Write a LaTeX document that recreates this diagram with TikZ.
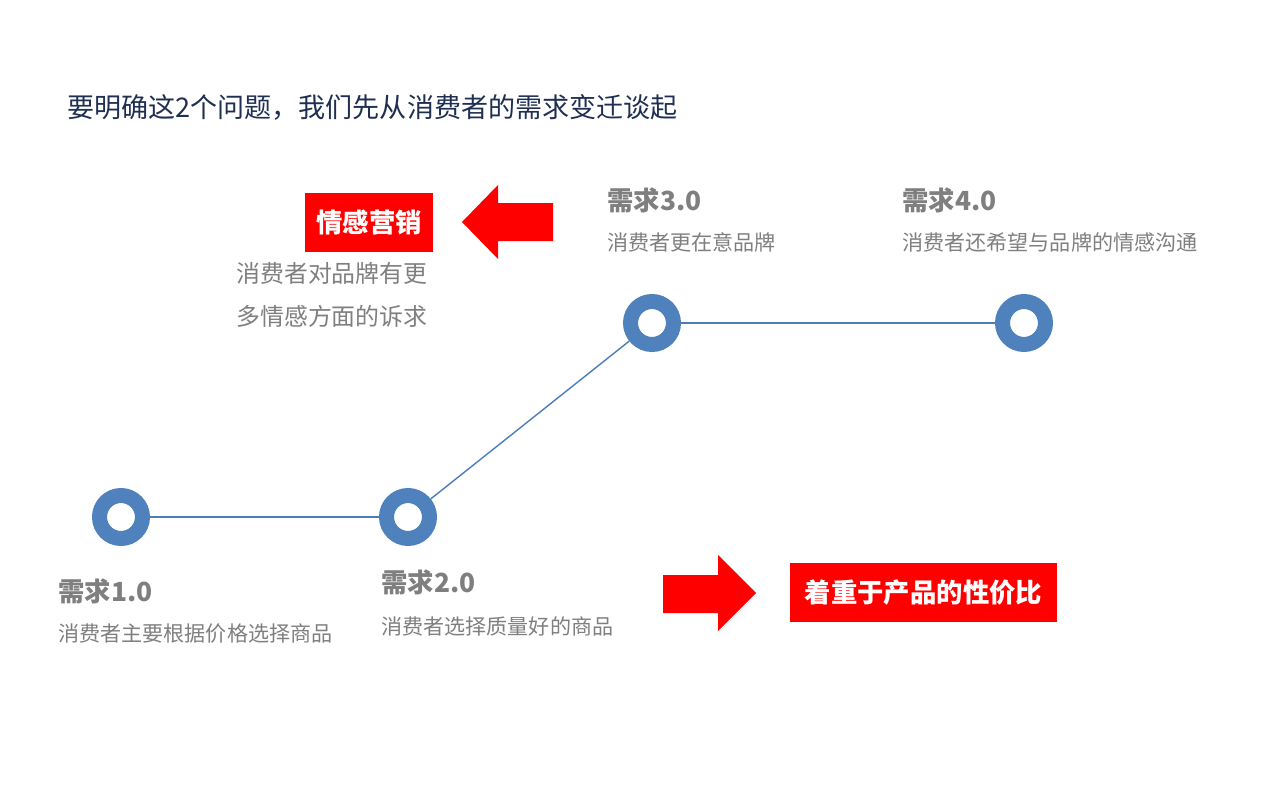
\documentclass[tikz,border=0pt]{standalone}
\usepackage{fontspec}
\setmainfont{Noto Sans CJK SC}
\usepackage{xcolor}
\usetikzlibrary{positioning}

\definecolor{titleblue}{HTML}{1F2F52}
\definecolor{ringblue}{HTML}{4F81BD}
\definecolor{lineblue}{HTML}{4A7EBB}
\definecolor{labelgray}{HTML}{7F7F7F}
\definecolor{markred}{HTML}{FF0000}

\begin{document}
\begin{tikzpicture}[x=0.02cm,y=-0.02cm]
\tikzstyle{every node}+=[inner sep=0pt]
\tikzstyle{ring}=[circle,draw=ringblue,line width=0.3cm,minimum size=0.86cm]
\tikzstyle{link}=[lineblue,line width=0.8pt]
\tikzstyle{stage}=[anchor=west,text=labelgray,font=\fontsize{15pt}{18pt}\selectfont\bfseries]
\tikzstyle{note}=[anchor=west,text=labelgray,font=\fontsize{12pt}{14pt}\selectfont]
\tikzstyle{tag}=[fill=markred,text=white,font=\fontsize{15pt}{18pt}\selectfont\bfseries,minimum height=1.18cm]
\useasboundingbox (0,0) rectangle (1275,808);
% title
\node [anchor=west,text=titleblue,font=\fontsize{15.4pt}{18pt}\selectfont] (title) at (67,107) {要明确这2个问题，我们先从消费者的需求变迁谈起};
% rings and links
\node [ring] (c1) at (121,517) {};
\node [ring] (c2) at (408,517) {};
\node [ring] (c3) at (652,323) {};
\node [ring] (c4) at (1024,323) {};
\draw [link] (c1) -- (c2);
\draw [link] (c2) -- (c3);
\draw [link] (c3) -- (c4);
% stage labels
\node [stage] (l1) at (58,591) {需求1.0};
\node [note] (s1) at (58,634) {消费者主要根据价格选择商品};
\node [stage] (l2) at (381,582) {需求2.0};
\node [note] (s2) at (381,626) {消费者选择质量好的商品};
\node [stage] (l3) at (607,200) {需求3.0};
\node [note] (s3) at (607,242) {消费者更在意品牌};
\node [stage] (l4) at (902,200) {需求4.0};
\node [note] (s4) at (902,242) {消费者还希望与品牌的情感沟通};
% emotional marketing
\node [tag,minimum width=2.56cm] (t1) at (369,222.5) {情感营销};
\node [note,font=\fontsize{13.6pt}{16pt}\selectfont] (e1) at (236,273) {消费者对品牌有更};
\node [note,font=\fontsize{13.6pt}{16pt}\selectfont] (e2) at (236,316) {多情感方面的诉求};
\fill [markred] (553,203) -- (498,203) -- (498,185) -- (462,222) -- (498,259) -- (498,241) -- (553,241) -- cycle;
% price performance
\fill [markred] (663,575) -- (718,575) -- (718,555) -- (756,593) -- (718,631) -- (718,613) -- (663,613) -- cycle;
\node [tag,minimum width=5.34cm] (t2) at (923.5,592.5) {着重于产品的性价比};
\end{tikzpicture}
\end{document}
